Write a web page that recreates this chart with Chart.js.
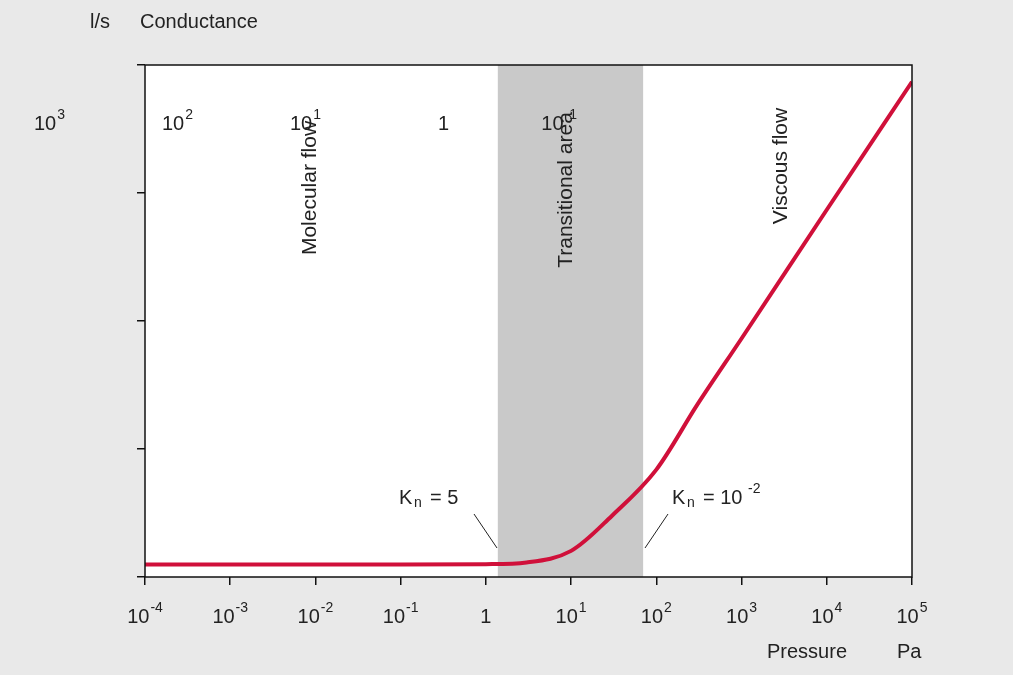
<!DOCTYPE html>
<html><head><meta charset="utf-8">
<script src="https://cdn.jsdelivr.net/npm/chart.js@4/dist/chart.umd.min.js"></script>
<style>html,body{margin:0;padding:0;background:#e9e9e9;}canvas{display:block;}</style>
</head><body>
<canvas id="c" width="1013" height="675"></canvas>
<script>
const pressure = [1e-4, 1e-3, 1e-2, 1e-1, 1, 3, 10, 30, 100, 300, 1000, 1e4, 1e5];
const conductance = [0.125, 0.125, 0.125, 0.125, 0.126, 0.13, 0.16, 0.3, 0.69, 2.2, 7.3, 74, 740];
const xTickExps = [-4, -3, -2, -1, 0, 1, 2, 3, 4, 5];
const yTickExps = [-1, 0, 1, 2, 3];
const bandRange = [1.38, 70];
const FONT = '"Liberation Sans", Arial, sans-serif';

function drawPow(ctx, e, x, y, align) {
  ctx.save();
  ctx.fillStyle = '#222';
  ctx.textBaseline = 'middle';
  if (e === 0) { ctx.font = '20px ' + FONT; ctx.textAlign = align; ctx.fillText('1', x, y); ctx.restore(); return; }
  ctx.font = '20px ' + FONT;
  const base = '10', sup = String(e);
  const bw = ctx.measureText(base).width;
  ctx.font = '14px ' + FONT;
  const sw = ctx.measureText(sup).width;
  const total = bw + sw + 1;
  let x0 = align === 'center' ? x - total / 2 : align === 'right' ? x - total : x;
  ctx.textAlign = 'left';
  ctx.font = '20px ' + FONT; ctx.fillText(base, x0, y);
  ctx.font = '14px ' + FONT; ctx.fillText(sup, x0 + bw + 1, y - 9);
  ctx.restore();
}

const deco = {
  id: 'deco',
  beforeDatasetsDraw(chart) {
    const {ctx, chartArea: a, scales: {x}} = chart;
    ctx.save();
    ctx.fillStyle = '#fff';
    ctx.fillRect(a.left, a.top, a.right - a.left, a.bottom - a.top);
    const x1 = x.getPixelForValue(bandRange[0]), x2 = x.getPixelForValue(bandRange[1]);
    ctx.fillStyle = '#c9c9c9';
    ctx.fillRect(x1, a.top, x2 - x1, a.bottom - a.top);
    ctx.fillStyle = '#222';
    ctx.font = '21px ' + FONT;
    ctx.textAlign = 'center'; ctx.textBaseline = 'middle';
    [['Molecular flow', 310, 188], ['Transitional area', 566, 190], ['Viscous flow', 781, 166]].forEach(([t, px, py]) => {
      ctx.save(); ctx.translate(px, py); ctx.rotate(-Math.PI / 2); ctx.fillText(t, 0, 0); ctx.restore();
    });
    ctx.strokeStyle = '#222'; ctx.lineWidth = 1;
    ctx.beginPath(); ctx.moveTo(474, 514); ctx.lineTo(497, 548); ctx.stroke();
    ctx.beginPath(); ctx.moveTo(668, 514); ctx.lineTo(645, 548); ctx.stroke();
    ctx.textAlign = 'left';
    ctx.font = '20px ' + FONT; ctx.fillText('K', 399, 498);
    ctx.font = '14px ' + FONT; ctx.fillText('n', 414, 503);
    ctx.font = '20px ' + FONT; ctx.fillText('= 5', 430, 498);
    ctx.fillText('K', 672, 498);
    ctx.font = '14px ' + FONT; ctx.fillText('n', 687, 503);
    ctx.font = '20px ' + FONT; ctx.fillText('= 10', 703, 498);
    ctx.font = '14px ' + FONT; ctx.fillText('-2', 748, 489);
    ctx.restore();
  },
  afterDraw(chart) {
    const {ctx, chartArea: a, scales: {x, y}} = chart;
    ctx.save();
    ctx.strokeStyle = '#111'; ctx.lineWidth = 1.5;
    ctx.strokeRect(a.left, a.top, a.right - a.left, a.bottom - a.top);
    xTickExps.forEach(e => drawPow(ctx, e, x.getPixelForValue(Math.pow(10, e)), 617, 'center'));
    yTickExps.forEach(e => drawPow(ctx, e, y.getPixelForValue(Math.pow(10, e)), 124, 'right'));
    ctx.fillStyle = '#222'; ctx.font = '20px ' + FONT; ctx.textBaseline = 'middle'; ctx.textAlign = 'left';
    ctx.fillText('l/s', 90, 22); ctx.fillText('Conductance', 140, 22);
    ctx.fillText('Pressure', 767, 652); ctx.fillText('Pa', 897, 652);
    ctx.restore();
  }
};

new Chart(document.getElementById('c'), {
  type: 'line',
  data: { datasets: [{
    data: pressure.map((p, i) => ({x: p, y: conductance[i]})),
    borderColor: '#d0103a', borderWidth: 4, pointRadius: 0, cubicInterpolationMode: 'monotone'
  }]},
  options: {
    responsive: false, animation: false,
    layout: { padding: { left: 0, top: 65, right: 101, bottom: 0 } },
    plugins: { legend: { display: false }, tooltip: { enabled: false } },
    scales: {
      x: { type: 'logarithmic', min: 1e-4, max: 1e5,
        afterBuildTicks: s => { s.ticks = xTickExps.map(e => ({value: Math.pow(10, e)})); },
        afterFit: s => { s.height = 98; },
        ticks: { callback: () => '', autoSkip: false },
        grid: { drawOnChartArea: false, tickLength: 8, color: '#111', lineWidth: 1.5 },
        border: { display: false } },
      y: { type: 'logarithmic', min: 0.1, max: 1000,
        afterBuildTicks: s => { s.ticks = yTickExps.map(e => ({value: Math.pow(10, e)})); },
        afterFit: s => { s.width = 145; },
        ticks: { callback: () => '', autoSkip: false },
        grid: { drawOnChartArea: false, tickLength: 8, color: '#111', lineWidth: 1.5 },
        border: { display: false } }
    }
  },
  plugins: [deco]
});
</script>
</body></html>
